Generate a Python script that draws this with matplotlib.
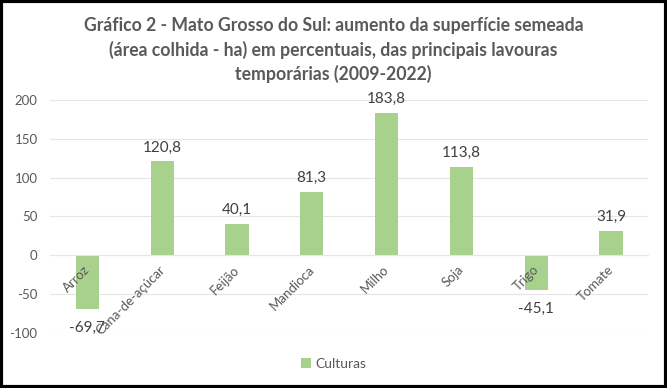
import matplotlib
matplotlib.use("Agg")
import matplotlib.pyplot as plt
import matplotlib.transforms as mtrans
from matplotlib.patches import Rectangle

culturas = ["Arroz", "Cana-de-açúcar", "Feijão", "Mandioca", "Milho", "Soja", "Trigo", "Tomate"]
valores = [-69.7, 120.8, 40.1, 81.3, 183.8, 113.8, -45.1, 31.9]
yticks = [-100, -50, 0, 50, 100, 150, 200]

titulo = ("Gráfico 2 - Mato Grosso do Sul: aumento da superfície semeada\n"
          "(área colhida - ha) em percentuais, das principais lavouras\n"
          "temporárias (2009-2022)")

plt.rcParams['font.family'] = ['Lato', 'DejaVu Sans']
verde = "#A9D18E"
cinza = "#595959"

fig = plt.figure(figsize=(6.67, 3.88), dpi=100)
ax = fig.add_axes([0.075, 0.1418, 0.897, 0.6005])

x = range(len(culturas))
ax.bar(x, valores, width=0.31, color=verde, label="Culturas", zorder=2)
ax.set_ylim(-100, 200)
ax.set_xlim(-0.5, len(culturas) - 0.5)
ax.set_yticks(yticks)
ax.set_yticklabels([str(v) for v in yticks], color=cinza, fontsize=9.5)
ax.grid(axis='y', color="#E6E6E6", linewidth=0.8, zorder=0)
for s in ["top", "right", "left"]:
    ax.spines[s].set_visible(False)
ax.spines["bottom"].set_position(("data", 0))
ax.spines["bottom"].set_color("#E6E6E6")
ax.xaxis.set_zorder(3)
ax.tick_params(axis='both', length=0)
ax.tick_params(axis='y', pad=9)
ax.set_xticks(list(x))
ax.set_xticklabels(culturas, rotation=45, ha='right', color=cinza, fontsize=9.5)
ax.tick_params(axis='x', pad=6)
off = mtrans.ScaledTranslation(3.5 / 72, 0, fig.dpi_scale_trans)
for lbl in ax.get_xticklabels():
    lbl.set_transform(lbl.get_transform() + off)

for i, v in enumerate(valores):
    txt = ("%.1f" % v).replace(".", ",")
    if v >= 0:
        ax.annotate(txt, (i, v), xytext=(0, 5), textcoords="offset points",
                    ha='center', va='bottom', fontsize=11, color="#404040", zorder=4)
    else:
        ax.annotate(txt, (i, v), xytext=(0, -8), textcoords="offset points",
                    ha='center', va='top', fontsize=11, color="#404040", zorder=4)

fig.text(0.5, 0.955, titulo, ha='center', va='top', fontsize=12.7,
         fontweight='bold', color=cinza, linespacing=1.4)

fig.legend(loc='center', bbox_to_anchor=(0.5, 0.062), frameon=False,
           fontsize=10, handlelength=0.7, handleheight=0.7, handletextpad=0.3,
           labelcolor=cinza)

fig.patches.append(Rectangle((0.002, 0.003), 0.996, 0.994, transform=fig.transFigure,
                             fill=False, edgecolor="black", linewidth=3))

fig.savefig("out.png", dpi=100)
